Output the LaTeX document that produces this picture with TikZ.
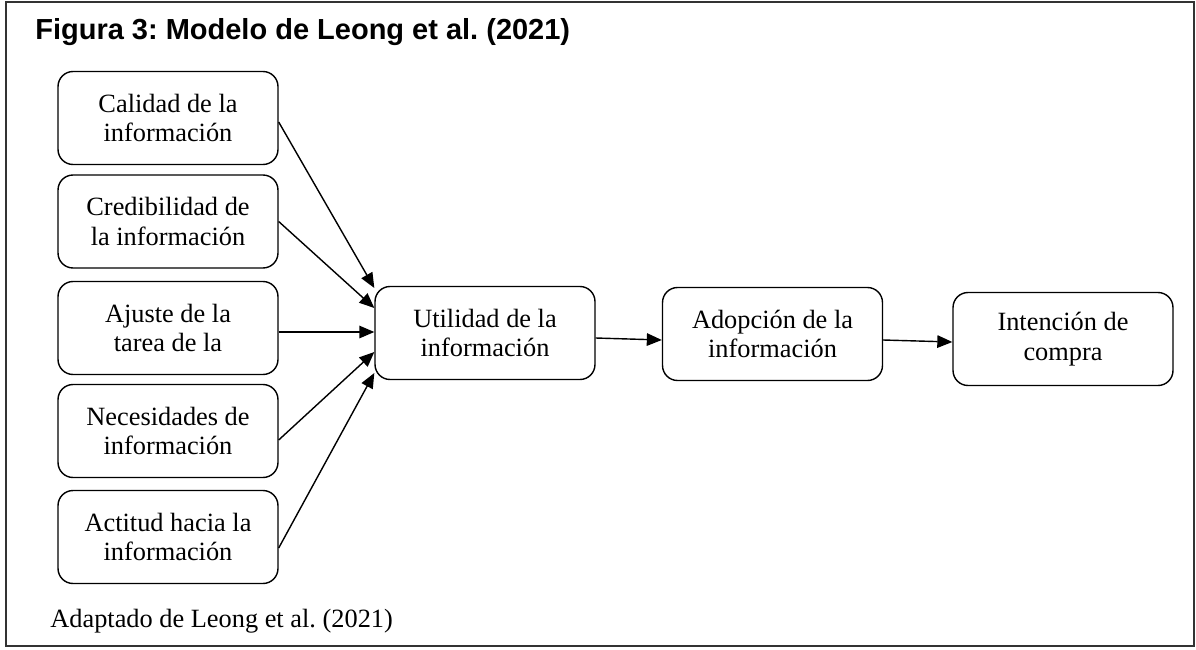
\documentclass[tikz,border=0pt]{standalone}
\usepackage{fontspec}
\setmainfont{Liberation Serif}
\newfontfamily\titlefont{Liberation Sans}
\usetikzlibrary{arrows.meta,calc}
\frenchspacing

\begin{document}
\begin{tikzpicture}[x=0.02cm,y=-0.02cm]
\tikzstyle{factor}=[rectangle,rounded corners=0.3cm,draw,line width=0.8pt,minimum width=4.4cm,minimum height=1.86cm,align=center,font=\fontsize{15}{17}\selectfont]
\tikzstyle{link}=[line width=0.8pt,-{Triangle[length=0.3cm,width=0.25cm]}]
\useasboundingbox (0,0) rectangle (1196,649);
\draw [line width=1.2pt,black!80] (6,2) rectangle (1194,646);
\node [anchor=base west,inner sep=0pt,font=\titlefont\bfseries\fontsize{16.5}{19}\selectfont] (titulo) at (35,39) {Figura 3: Modelo de Leong et al. (2021)};
% factores de la izquierda
\node [factor] (calidad) at (168,118) {Calidad de la\\información};
\node [factor] (credib) at (168,221.5) {Credibilidad de\\la información};
\node [factor] (ajuste) at (168,328) {Ajuste de la\\tarea de la};
\node [factor] (necesid) at (168,431) {Necesidades de\\información};
\node [factor] (actitud) at (168,537) {Actitud hacia la\\información};
% cadena central
\node [factor] (utilidad) at (485,333) {Utilidad de la\\información};
\node [factor] (adopcion) at (772.5,334) {Adopción de la\\información};
\node [factor] (intencion) at (1063,339) {Intención de\\compra};
\draw [link] ($(calidad.east)+(0,4)$) -- ($(utilidad.west)+(0,-45)$);
\draw [link] (credib.east) -- ($(utilidad.west)+(0,-25)$);
\draw [link] ($(ajuste.east)+(0,4)$) -- ($(utilidad.west)+(0,-1)$);
\draw [link] ($(necesid.east)+(0,9)$) -- ($(utilidad.west)+(0,19)$);
\draw [link] ($(actitud.east)+(0,11)$) -- ($(utilidad.west)+(0,40)$);
\draw [link] ($(utilidad.east)+(0,5)$) -- ($(adopcion.west)+(0,6)$);
\draw [link] ($(adopcion.east)+(0,6)$) -- ($(intencion.west)+(0,3)$);
\node [anchor=base west,inner sep=0pt,font=\fontsize{15}{17}\selectfont] (fuente) at (50,627) {Adaptado de Leong et al. (2021)};
\end{tikzpicture}
\end{document}
